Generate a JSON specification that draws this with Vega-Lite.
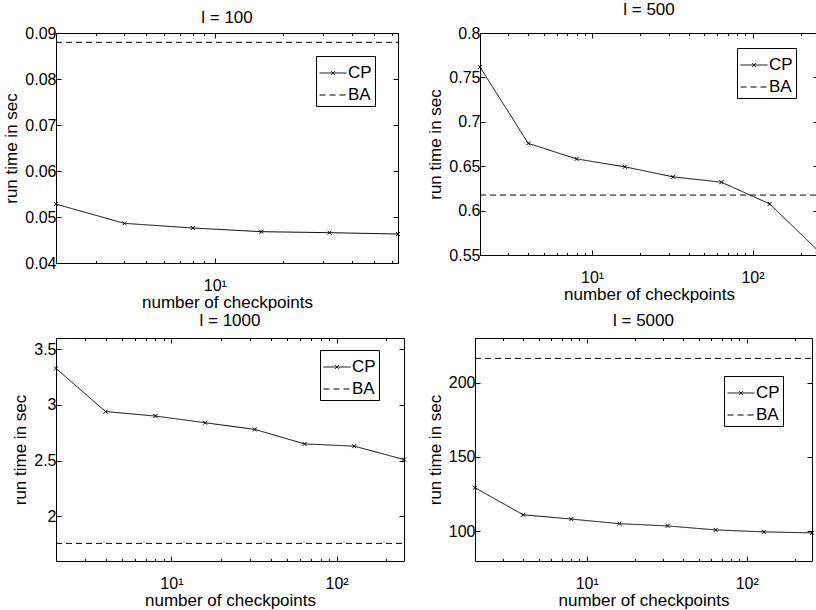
{
  "$schema": "https://vega.github.io/schema/vega-lite/v6.json",
  "padding": {"left": 2, "top": 0, "right": 0, "bottom": 0},
  "background": "white",
  "config": {
    "font": "Liberation Sans",
    "view": {"stroke": "black", "strokeWidth": 1},
    "title": {"fontSize": 17, "fontWeight": "normal", "color": "black", "font": "Liberation Sans"},
    "axis": {
      "domain": false, "grid": false,
      "labelFontSize": 16, "labelColor": "black", "labelFont": "Liberation Sans",
      "titleFontSize": 17, "titleFontWeight": "normal", "titleColor": "black", "titleFont": "Liberation Sans",
      "tickColor": "black", "tickWidth": 1
    },
    "legend": {"labelFontSize": 17, "labelColor": "black", "labelFont": "Liberation Sans"}
  },
  "resolve": {"scale": {"strokeDash": "independent"}, "legend": {"strokeDash": "independent"}},
  "spacing": 0,
  "align": "none",
  "vconcat": [
    {
      "spacing": 23,
      "align": "none",
      "resolve": {"scale": {"strokeDash": "independent"}, "legend": {"strokeDash": "independent"}},
      "hconcat": [
        {
          "title": {"text": "l = 100", "offset": -2},
          "width": 342, "height": 230,
          "data": {"values": [
            {"n": 2, "t": 0.0528, "s": "CP"}, {"n": 4, "t": 0.04862, "s": "CP"}, {"n": 8, "t": 0.04761, "s": "CP"},
            {"n": 16, "t": 0.04681, "s": "CP"}, {"n": 32, "t": 0.04659, "s": "CP"}, {"n": 64, "t": 0.0463, "s": "CP"},
            {"n": 2, "t": 0.08797, "s": "BA"}, {"n": 64, "t": 0.08797, "s": "BA"}
          ]},
          "resolve": {"axis": {"x": "independent", "y": "independent"}},
          "layer": [
            {
              "mark": {"type": "line", "color": "black", "strokeWidth": 1},
              "encoding": {
                "x": {"field": "n", "type": "quantitative", "scale": {"type": "log", "domain": [2, 64], "nice": false},
                  "axis": {"orient": "bottom", "title": "number of checkpoints", "values": [2,3,4,5,6,7,8,9,10,20,30,40,50,60],
                    "labelExpr": "datum.value == 10 ? '10¹' : datum.value == 100 ? '10²' : ''",
                    "tickSize": {"condition": {"test": "datum.value == 10 || datum.value == 100", "value": -5}, "value": -2.5},
                    "labelPadding": 19, "titlePadding": -1, "labelFlush": false, "labelOverlap": false}},
                "y": {"field": "t", "type": "quantitative", "scale": {"domain": [0.04, 0.09], "nice": false, "zero": false},
                  "axis": {"orient": "left", "title": "run time in sec", "values": [0.04,0.05,0.06,0.07,0.08,0.09], "format": "~r",
                    "tickSize": -5, "labelPadding": 5, "titlePadding": 4, "labelFlush": false, "labelOverlap": false}},
                "strokeDash": {"field": "s", "type": "nominal", "scale": {"domain": ["CP", "BA"], "range": [[1, 0], [6, 4]]},
                  "legend": {"title": null, "orient": "none", "legendX": 260, "legendY": 23, "symbolType": "M-1,0L1,0", "symbolSize": 729,
                    "symbolStrokeWidth": 1, "symbolStrokeColor": "black", "strokeColor": "black", "fillColor": "white",
                    "padding": 3, "labelOffset": 1, "rowPadding": 0,
                    "encode": {"symbols": {"update": {"shape": {"signal": "datum.value === 'CP' ? 'M-1,0L1,0M-0.15,-0.15L0.15,0.15M-0.15,0.15L0.15,-0.15' : 'M-1,0L1,0'"}}}}}}
              }
            },
            {
              "transform": [{"filter": "datum.s === 'CP'"}],
              "mark": {"type": "point", "shape": "M-1,-1L1,1M-1,1L1,-1", "size": 16, "color": "black", "filled": false, "strokeWidth": 1, "opacity": 1},
              "encoding": {
                "x": {"field": "n", "type": "quantitative", "scale": {"type": "log", "domain": [2, 64], "nice": false},
                  "axis": {"orient": "top", "title": null, "labels": false, "values": [2,3,4,5,6,7,8,9,10,20,30,40,50,60],
                    "tickSize": {"condition": {"test": "datum.value == 10 || datum.value == 100", "value": -5}, "value": -2.5}}},
                "y": {"field": "t", "type": "quantitative", "scale": {"domain": [0.04, 0.09], "nice": false, "zero": false},
                  "axis": {"orient": "right", "title": null, "labels": false, "values": [0.04,0.05,0.06,0.07,0.08,0.09], "tickSize": -5}}
              }
            }
          ]
        },
        {
          "title": {"text": "l = 500", "offset": 6},
          "width": 338, "height": 222,
          "data": {"values": [
            {"n": 2, "t": 0.7616, "s": "CP"}, {"n": 4, "t": 0.6757, "s": "CP"}, {"n": 8, "t": 0.6582, "s": "CP"},
            {"n": 16, "t": 0.6493, "s": "CP"}, {"n": 32, "t": 0.638, "s": "CP"}, {"n": 64, "t": 0.632, "s": "CP"},
            {"n": 128, "t": 0.6075, "s": "CP"}, {"n": 256, "t": 0.555, "s": "CP"},
            {"n": 2, "t": 0.6175, "s": "BA"}, {"n": 256, "t": 0.6175, "s": "BA"}
          ]},
          "resolve": {"axis": {"x": "independent", "y": "independent"}},
          "layer": [
            {
              "mark": {"type": "line", "color": "black", "strokeWidth": 1},
              "encoding": {
                "x": {"field": "n", "type": "quantitative", "scale": {"type": "log", "domain": [2, 256], "nice": false},
                  "axis": {"orient": "bottom", "title": "number of checkpoints", "values": [2,3,4,5,6,7,8,9,10,20,30,40,50,60,70,80,90,100,200],
                    "labelExpr": "datum.value == 10 ? '10¹' : datum.value == 100 ? '10²' : ''",
                    "tickSize": {"condition": {"test": "datum.value == 10 || datum.value == 100", "value": -5}, "value": -2.5},
                    "labelPadding": 19, "titlePadding": -1, "labelFlush": false, "labelOverlap": false}},
                "y": {"field": "t", "type": "quantitative", "scale": {"domain": [0.55, 0.8], "nice": false, "zero": false},
                  "axis": {"orient": "left", "title": "run time in sec", "values": [0.55,0.6,0.65,0.7,0.75,0.8], "format": "~r",
                    "tickSize": -5, "labelPadding": 5, "titlePadding": 4, "labelFlush": false, "labelOverlap": false}},
                "strokeDash": {"field": "s", "type": "nominal", "scale": {"domain": ["CP", "BA"], "range": [[1, 0], [6, 4]]},
                  "legend": {"title": null, "orient": "none", "legendX": 257, "legendY": 15, "symbolType": "M-1,0L1,0", "symbolSize": 729,
                    "symbolStrokeWidth": 1, "symbolStrokeColor": "black", "strokeColor": "black", "fillColor": "white",
                    "padding": 3, "labelOffset": 1, "rowPadding": 0,
                    "encode": {"symbols": {"update": {"shape": {"signal": "datum.value === 'CP' ? 'M-1,0L1,0M-0.15,-0.15L0.15,0.15M-0.15,0.15L0.15,-0.15' : 'M-1,0L1,0'"}}}}}}
              }
            },
            {
              "transform": [{"filter": "datum.s === 'CP'"}],
              "mark": {"type": "point", "shape": "M-1,-1L1,1M-1,1L1,-1", "size": 16, "color": "black", "filled": false, "strokeWidth": 1, "opacity": 1},
              "encoding": {
                "x": {"field": "n", "type": "quantitative", "scale": {"type": "log", "domain": [2, 256], "nice": false},
                  "axis": {"orient": "top", "title": null, "labels": false, "values": [2,3,4,5,6,7,8,9,10,20,30,40,50,60,70,80,90,100,200],
                    "tickSize": {"condition": {"test": "datum.value == 10 || datum.value == 100", "value": -5}, "value": -2.5}}},
                "y": {"field": "t", "type": "quantitative", "scale": {"domain": [0.55, 0.8], "nice": false, "zero": false},
                  "axis": {"orient": "right", "title": null, "labels": false, "values": [0.55,0.6,0.65,0.7,0.75,0.8], "tickSize": -5}}
              }
            }
          ]
        }
      ]
    },
    {
      "spacing": 16,
      "align": "none",
      "resolve": {"scale": {"strokeDash": "independent"}, "legend": {"strokeDash": "independent"}},
      "hconcat": [
        {
          "title": {"text": "l = 1000", "offset": 8},
          "width": 348, "height": 223,
          "data": {"values": [
            {"n": 2, "t": 3.327, "s": "CP"}, {"n": 4, "t": 2.94, "s": "CP"}, {"n": 8, "t": 2.90, "s": "CP"},
            {"n": 16, "t": 2.84, "s": "CP"}, {"n": 32, "t": 2.78, "s": "CP"}, {"n": 64, "t": 2.65, "s": "CP"},
            {"n": 128, "t": 2.63, "s": "CP"}, {"n": 256, "t": 2.51, "s": "CP"},
            {"n": 2, "t": 1.758, "s": "BA"}, {"n": 256, "t": 1.758, "s": "BA"}
          ]},
          "resolve": {"axis": {"x": "independent", "y": "independent"}},
          "layer": [
            {
              "mark": {"type": "line", "color": "black", "strokeWidth": 1},
              "encoding": {
                "x": {"field": "n", "type": "quantitative", "scale": {"type": "log", "domain": [2, 256], "nice": false},
                  "axis": {"orient": "bottom", "title": "number of checkpoints", "values": [2,3,4,5,6,7,8,9,10,20,30,40,50,60,70,80,90,100,200],
                    "labelExpr": "datum.value == 10 ? '10¹' : datum.value == 100 ? '10²' : ''",
                    "tickSize": {"condition": {"test": "datum.value == 10 || datum.value == 100", "value": -5}, "value": -2.5},
                    "labelPadding": 19, "titlePadding": -1, "labelFlush": false, "labelOverlap": false}},
                "y": {"field": "t", "type": "quantitative", "scale": {"domain": [1.6, 3.6], "nice": false, "zero": false},
                  "axis": {"orient": "left", "title": "run time in sec", "values": [2, 2.5, 3, 3.5], "format": "~r",
                    "tickSize": -5, "labelPadding": 5, "titlePadding": 4, "labelFlush": false, "labelOverlap": false}},
                "strokeDash": {"field": "s", "type": "nominal", "scale": {"domain": ["CP", "BA"], "range": [[1, 0], [6, 4]]},
                  "legend": {"title": null, "orient": "none", "legendX": 264, "legendY": 12, "symbolType": "M-1,0L1,0", "symbolSize": 729,
                    "symbolStrokeWidth": 1, "symbolStrokeColor": "black", "strokeColor": "black", "fillColor": "white",
                    "padding": 3, "labelOffset": 1, "rowPadding": 0,
                    "encode": {"symbols": {"update": {"shape": {"signal": "datum.value === 'CP' ? 'M-1,0L1,0M-0.15,-0.15L0.15,0.15M-0.15,0.15L0.15,-0.15' : 'M-1,0L1,0'"}}}}}}
              }
            },
            {
              "transform": [{"filter": "datum.s === 'CP'"}],
              "mark": {"type": "point", "shape": "M-1,-1L1,1M-1,1L1,-1", "size": 16, "color": "black", "filled": false, "strokeWidth": 1, "opacity": 1},
              "encoding": {
                "x": {"field": "n", "type": "quantitative", "scale": {"type": "log", "domain": [2, 256], "nice": false},
                  "axis": {"orient": "top", "title": null, "labels": false, "values": [2,3,4,5,6,7,8,9,10,20,30,40,50,60,70,80,90,100,200],
                    "tickSize": {"condition": {"test": "datum.value == 10 || datum.value == 100", "value": -5}, "value": -2.5}}},
                "y": {"field": "t", "type": "quantitative", "scale": {"domain": [1.6, 3.6], "nice": false, "zero": false},
                  "axis": {"orient": "right", "title": null, "labels": false, "values": [2, 2.5, 3, 3.5], "tickSize": -5}}
              }
            }
          ]
        },
        {
          "title": {"text": "l = 5000", "offset": 8},
          "width": 337, "height": 223,
          "data": {"values": [
            {"n": 2, "t": 129.3, "s": "CP"}, {"n": 4, "t": 111.1, "s": "CP"}, {"n": 8, "t": 108.2, "s": "CP"},
            {"n": 16, "t": 105.1, "s": "CP"}, {"n": 32, "t": 103.6, "s": "CP"}, {"n": 64, "t": 100.9, "s": "CP"},
            {"n": 128, "t": 99.6, "s": "CP"}, {"n": 256, "t": 98.9, "s": "CP"},
            {"n": 2, "t": 216.3, "s": "BA"}, {"n": 256, "t": 216.3, "s": "BA"}
          ]},
          "resolve": {"axis": {"x": "independent", "y": "independent"}},
          "layer": [
            {
              "mark": {"type": "line", "color": "black", "strokeWidth": 1},
              "encoding": {
                "x": {"field": "n", "type": "quantitative", "scale": {"type": "log", "domain": [2, 256], "nice": false},
                  "axis": {"orient": "bottom", "title": "number of checkpoints", "values": [2,3,4,5,6,7,8,9,10,20,30,40,50,60,70,80,90,100,200],
                    "labelExpr": "datum.value == 10 ? '10¹' : datum.value == 100 ? '10²' : ''",
                    "tickSize": {"condition": {"test": "datum.value == 10 || datum.value == 100", "value": -5}, "value": -2.5},
                    "labelPadding": 19, "titlePadding": -1, "labelFlush": false, "labelOverlap": false}},
                "y": {"field": "t", "type": "quantitative", "scale": {"domain": [80, 230], "nice": false, "zero": false},
                  "axis": {"orient": "left", "title": "run time in sec", "values": [100, 150, 200], "format": "~r",
                    "tickSize": -5, "labelPadding": 5, "titlePadding": 4, "labelFlush": false, "labelOverlap": false}},
                "strokeDash": {"field": "s", "type": "nominal", "scale": {"domain": ["CP", "BA"], "range": [[1, 0], [6, 4]]},
                  "legend": {"title": null, "orient": "none", "legendX": 249, "legendY": 38, "symbolType": "M-1,0L1,0", "symbolSize": 729,
                    "symbolStrokeWidth": 1, "symbolStrokeColor": "black", "strokeColor": "black", "fillColor": "white",
                    "padding": 3, "labelOffset": 1, "rowPadding": 0,
                    "encode": {"symbols": {"update": {"shape": {"signal": "datum.value === 'CP' ? 'M-1,0L1,0M-0.15,-0.15L0.15,0.15M-0.15,0.15L0.15,-0.15' : 'M-1,0L1,0'"}}}}}}
              }
            },
            {
              "transform": [{"filter": "datum.s === 'CP'"}],
              "mark": {"type": "point", "shape": "M-1,-1L1,1M-1,1L1,-1", "size": 16, "color": "black", "filled": false, "strokeWidth": 1, "opacity": 1},
              "encoding": {
                "x": {"field": "n", "type": "quantitative", "scale": {"type": "log", "domain": [2, 256], "nice": false},
                  "axis": {"orient": "top", "title": null, "labels": false, "values": [2,3,4,5,6,7,8,9,10,20,30,40,50,60,70,80,90,100,200],
                    "tickSize": {"condition": {"test": "datum.value == 10 || datum.value == 100", "value": -5}, "value": -2.5}}},
                "y": {"field": "t", "type": "quantitative", "scale": {"domain": [80, 230], "nice": false, "zero": false},
                  "axis": {"orient": "right", "title": null, "labels": false, "values": [100, 150, 200], "tickSize": -5}}
              }
            }
          ]
        }
      ]
    }
  ]
}
